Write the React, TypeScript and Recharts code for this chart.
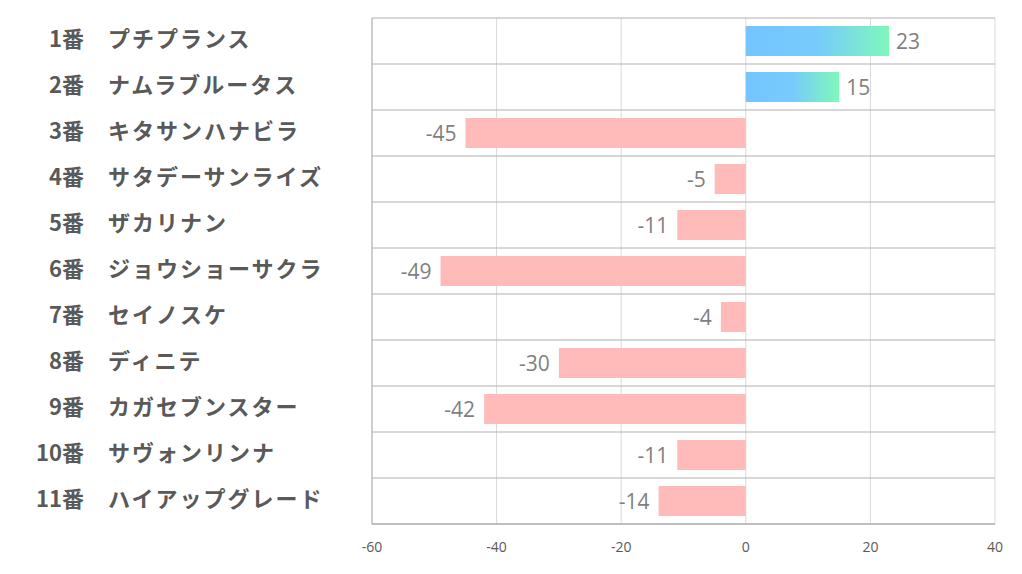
import React from "react";
import { BarChart, Bar, XAxis, YAxis, CartesianGrid, Cell, LabelList } from "recharts";

const horseNumbers = ["1番", "2番", "3番", "4番", "5番", "6番", "7番", "8番", "9番", "10番", "11番"];
const horseNames = [
  "プチプランス",
  "ナムラブルータス",
  "キタサンハナビラ",
  "サタデーサンライズ",
  "ザカリナン",
  "ジョウショーサクラ",
  "セイノスケ",
  "ディニテ",
  "カガセブンスター",
  "サヴォンリンナ",
  "ハイアップグレード",
];
const scores = [23, 15, -45, -5, -11, -49, -4, -30, -42, -11, -14];
const xTicks = [-60, -40, -20, 0, 20, 40];

const data = horseNames.map((name, i) => ({ key: horseNumbers[i], name, value: scores[i] }));

const HorseTick = (props: any) => {
  const { y, payload } = props;
  const row = data[payload.index] ?? data.find((d) => d.key === payload.value);
  return (
    <g>
      <text x={84} y={y} dy={6} textAnchor="end" fill="#595959" fontSize={22} fontWeight="bold"
        fontFamily="'Noto Sans CJK JP', sans-serif">
        {row ? row.key : payload.value}
      </text>
      <text x={108} y={y} dy={6} textAnchor="start" fill="#595959" fontSize={22} fontWeight="bold"
        letterSpacing={2} fontFamily="'Noto Sans CJK JP', sans-serif">
        {row ? row.name : ""}
      </text>
    </g>
  );
};

const ValueLabel = (props: any) => {
  const { x, y, width, height, value } = props;
  const left = Math.min(x, x + width);
  const right = Math.max(x, x + width);
  const neg = value < 0;
  return (
    <text
      x={neg ? left - 9 : right + 7}
      y={y + height / 2}
      dy={8}
      textAnchor={neg ? "end" : "start"}
      fill="#7f7f7f"
      fontSize={21}
      fontFamily="'Open Sans', sans-serif"
    >
      {value}
    </text>
  );
};

export default function App() {
  return (
    <div style={{ position: "absolute", left: 0, top: 0, background: "#fff" }}>
      <BarChart
        width={1022}
        height={574}
        data={data}
        layout="vertical"
        margin={{ top: 18, right: 27, left: 0, bottom: 20 }}
        barSize={30}
      >
        <defs>
          <linearGradient id="posGrad" x1="0" y1="0" x2="1" y2="0">
            <stop offset="0%" stopColor="#74c5ff" />
            <stop offset="50%" stopColor="#76cbfb" />
            <stop offset="100%" stopColor="#7ff8bb" />
          </linearGradient>
        </defs>
        <CartesianGrid horizontal={false} stroke="#d9d9d9" />
        <CartesianGrid
          vertical={false}
          stroke="#b0b0b0"
          horizontalCoordinatesGenerator={({ offset }: any) =>
            Array.from({ length: data.length + 1 }, (_, i) => offset.top + (i * offset.height) / data.length)
          }
        />
        <XAxis
          type="number"
          domain={[-60, 40]}
          ticks={xTicks}
          height={30}
          tickLine={false}
          axisLine={{ stroke: "#a6a6a6" }}
          tick={{ fill: "#595959", fontSize: 14, fontFamily: "'Open Sans', sans-serif" }}
          tickMargin={12}
        />
        <YAxis
          type="category"
          dataKey="key"
          width={372}
          tickLine={false}
          axisLine={{ stroke: "#b0b0b0" }}
          tick={<HorseTick />}
          interval={0}
        />
        <Bar dataKey="value" isAnimationActive={false}>
          {data.map((d, i) => (
            <Cell key={i} fill={d.value >= 0 ? "url(#posGrad)" : "#ffbaba"} />
          ))}
          <LabelList dataKey="value" content={<ValueLabel />} />
        </Bar>
      </BarChart>
    </div>
  );
}
